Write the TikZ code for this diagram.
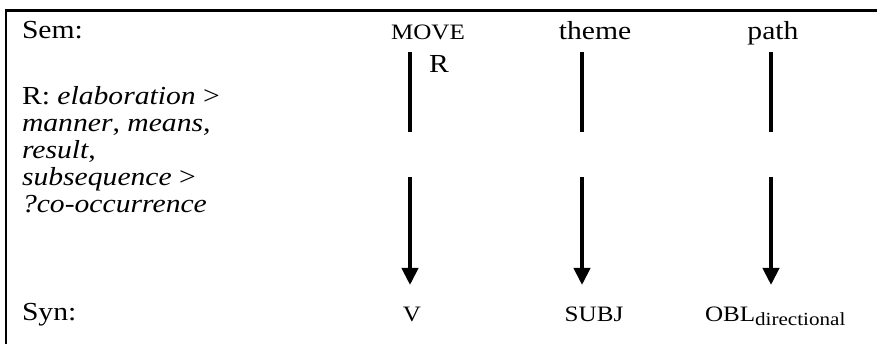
\documentclass[tikz,border=0pt]{standalone}
\usepackage{fontspec}
\setmainfont[FakeStretch=1.14]{Liberation Serif}
\usetikzlibrary{arrows.meta}
\begin{document}
\begin{tikzpicture}[x=1pt,y=-1pt,
  every node/.style={inner sep=0pt, outer sep=0pt, text=black},
  big/.style={font=\fontsize{26}{27}\selectfont},
  small/.style={font=\fontsize{22}{24}\selectfont},
  frame/.style={line width=2.5pt},
  link/.style={line width=4pt},
  arr/.style={line width=4pt, -{Triangle[width=16pt,length=17pt]}},
]
\useasboundingbox (0,0) rectangle (877,344);
\draw[frame] (6,344) -- (6,10.7) -- (877,10.7);

\node[big, anchor=base west] (sem) at (22,39) {Sem:};
\node[small, anchor=base] (move) at (428,40) {MOVE};
\node[big, anchor=base] (theme) at (595,40) {theme};
\node[big, anchor=base] (path) at (773,40) {path};
\node[big, anchor=base west] (rlab) at (429,73) {R};

\node[big, anchor=base west, align=left] (rel) at (22,213)
  {R: \textit{elaboration} >\\ \textit{manner}, \textit{means,}\\ \textit{result},\\ \textit{subsequence} >\\ \textit{?co-occurrence}};

\node[big, anchor=base west] (syn) at (22,320) {Syn:};
\node[small, anchor=base] (v) at (412,321) {V};
\node[small, anchor=base] (subj) at (594,321) {SUBJ};
\node[small, anchor=base west] (obl) at (705,321)
  {OBL\raisebox{-4pt}{\fontsize{18.5}{20}\selectfont directional}};

\foreach \n/\x in {m/410, t/582, p/771} {
  \coordinate (\n1) at (\x,52);
  \coordinate (\n2) at (\x,132);
  \coordinate (\n3) at (\x,177);
  \coordinate (\n4) at (\x,285);
}
\draw[link] (m1) -- (m2);
\draw[arr] (m3) -- (m4);
\draw[link] (t1) -- (t2);
\draw[arr] (t3) -- (t4);
\draw[link] (p1) -- (p2);
\draw[arr] (p3) -- (p4);
\end{tikzpicture}
\end{document}
